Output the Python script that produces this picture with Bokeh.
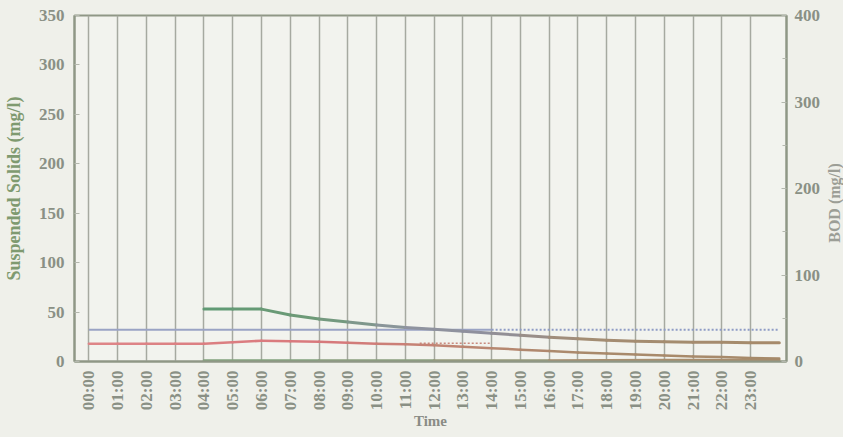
import math
from bokeh.plotting import figure
from bokeh.models import Range1d, LinearAxis, FixedTicker, ColumnDataSource, Div
from bokeh.layouts import row
from bokeh.embed import file_html
from bokeh.resources import INLINE

# ---------------- data ----------------
hour_ticks = [0, 1, 2, 3, 4, 5, 6, 7, 8, 9, 10, 11, 12, 13, 14, 15, 16, 17, 18, 19, 20, 21, 22, 23]
time_labels = ["00:00", "01:00", "02:00", "03:00", "04:00", "05:00", "06:00", "07:00",
               "08:00", "09:00", "10:00", "11:00", "12:00", "13:00", "14:00", "15:00",
               "16:00", "17:00", "18:00", "19:00", "20:00", "21:00", "22:00", "23:00"]

red_hours = [0, 1, 2, 3, 4, 5, 6, 7, 8, 9, 10, 11, 12, 13, 14, 15, 16, 17, 18, 19, 20, 21, 22, 23, 24]
red_ss = [18, 18, 18, 18, 18, 19.5, 21, 20.5, 20, 19, 18, 17.5, 16.5, 15, 13.5, 12, 10.5, 9, 8, 7, 6, 5, 4.5, 3.5, 3]

green_hours = [4, 5, 6, 7, 8, 9, 10, 11, 12, 13, 14, 15, 16, 17, 18, 19, 20, 21, 22, 23, 24]
green_ss = [53, 53, 53, 47, 43, 40, 37, 34.5, 32.5, 30.5, 28.5, 26.5, 24.5, 23, 21.5, 20.5, 20, 19.5, 19.5, 19, 19]

blue_solid_hours = [0, 14]
blue_solid = [32, 32]
blue_dot_hours = [14, 24]
blue_dot = [32, 32]

pink_dot_hours = [11.5, 14]
pink_dot = [18.5, 18.5]

base_hours = [4, 8, 12, 16, 20, 24]
base_ss = [1, 1, 1, 1, 1.5, 1.5]

ss_ticks = [0, 50, 100, 150, 200, 250, 300, 350]
bod_ticks = [0, 100, 200, 300, 400]
bod_minor = [50, 150, 250, 350]

# ---------------- style ----------------
BG = "#eff0ea"
FRAME = "#8f9786"
TXT = "#8a9085"
FONT = "Liberation Serif"


def hex2rgb(h):
    h = h.lstrip("#")
    return tuple(int(h[i:i + 2], 16) for i in (0, 2, 4))


def mix(stops, t):
    for (t0, c0), (t1, c1) in zip(stops[:-1], stops[1:]):
        if t <= t1:
            f = 0 if t1 == t0 else max(0.0, min(1.0, (t - t0) / (t1 - t0)))
            a, b = hex2rgb(c0), hex2rgb(c1)
            return "#%02x%02x%02x" % tuple(int(round(a[i] + (b[i] - a[i]) * f)) for i in range(3))
    return stops[-1][1]


def gradient_line(p, xs, ys, stops, width):
    x0, y0, x1, y1, col = [], [], [], [], []
    for i in range(len(xs) - 1):
        x0.append(xs[i]); y0.append(ys[i]); x1.append(xs[i + 1]); y1.append(ys[i + 1])
        col.append(mix(stops, (xs[i] + xs[i + 1]) / 2))
    src = ColumnDataSource(dict(x0=x0, y0=y0, x1=x1, y1=y1, c=col))
    p.segment("x0", "y0", "x1", "y1", source=src, line_color="c", line_width=width, line_cap="round")


p = figure(width=826, height=437, output_backend="svg", toolbar_location=None,
           x_range=Range1d(-0.5, 24.25), y_range=Range1d(0, 350),
           min_border_left=74, min_border_right=40, min_border_top=15, min_border_bottom=76)
p.background_fill_color = "#f2f3ee"
p.border_fill_color = BG
p.outline_line_color = FRAME
p.outline_line_width = 2

p.extra_y_ranges = {"bod": Range1d(0, 400)}
right = LinearAxis(y_range_name="bod", ticker=FixedTicker(ticks=bod_ticks, minor_ticks=bod_minor))
p.add_layout(right, "right")

ly = p.yaxis[0]
ly.ticker = FixedTicker(ticks=ss_ticks)
ly.axis_label = "Suspended Solids (mg/l)"

for ax in (ly, right):
    ax.axis_line_color = FRAME
    ax.axis_line_width = 2
    ax.major_tick_in = 5
    ax.major_tick_out = 0
    ax.minor_tick_in = 4
    ax.minor_tick_out = 0
    ax.major_tick_line_color = "#b4b8ae"
    ax.minor_tick_line_color = "#b4b8ae"
    ax.major_label_text_font = FONT
    ax.major_label_text_font_style = "bold"
    ax.major_label_text_font_size = "17px"
    ax.major_label_text_color = TXT

ly.major_label_standoff = 10
ly.axis_label_standoff = 12
ly.axis_label_text_font = FONT
ly.axis_label_text_font_style = "bold"
ly.axis_label_text_font_size = "18px"
ly.axis_label_text_color = "#7f9a70"

right.major_label_standoff = 8

xa = p.xaxis[0]
xa.ticker = FixedTicker(ticks=hour_ticks)
xa.major_label_overrides = {h: lab for h, lab in zip(hour_ticks, time_labels)}
xa.major_label_orientation = math.pi / 2
xa.major_label_text_font = FONT
xa.major_label_text_font_style = "bold"
xa.major_label_text_font_size = "17px"
xa.major_label_text_color = TXT
xa.major_label_standoff = 9
xa.major_tick_in = 0
xa.major_tick_out = 0
xa.minor_tick_in = 0
xa.minor_tick_out = 0
xa.axis_line_color = FRAME
xa.axis_line_width = 2
xa.axis_label = "Time"
xa.axis_label_text_font = FONT
xa.axis_label_text_font_style = "bold"
xa.axis_label_text_font_size = "15px"
xa.axis_label_text_color = "#8a8c86"
xa.axis_label_standoff = 0

p.ygrid.visible = False
p.xgrid.ticker = FixedTicker(ticks=hour_ticks)
p.xgrid.grid_line_color = "#a6a9a0"
p.xgrid.grid_line_width = 1.5

p.line(blue_solid_hours, blue_solid, line_color="#9aa3c4", line_width=2)
p.line(blue_dot_hours, blue_dot, line_color="#8f9cc6", line_width=2, line_dash="2 2")
p.line(pink_dot_hours, pink_dot, line_color="#c98a7e", line_width=1.5, line_dash="2 2")

gradient_line(p, base_hours, base_ss, [(4, "#7fa27c"), (12, "#8ea080"), (18, "#a88f70"), (24, "#a88c6c")], 2.5)
gradient_line(p, red_hours, red_ss, [(0, "#de8688"), (8, "#d9787c"), (13, "#bd8672"), (17, "#a98a6c"), (24, "#a68a6a")], 2.5)
gradient_line(p, green_hours, green_ss, [(4, "#5f9a73"), (8, "#6f9a78"), (11, "#8f94a0"), (14, "#8f8f9c"), (17, "#a38d74"), (24, "#a68a6a")], 3)

# right-hand axis title (reads bottom to top) in a narrow strip next to the plot
bod_svg = ('<svg xmlns="http://www.w3.org/2000/svg" width="17" height="437" style="display:block">'
           '<text x="8" y="203" transform="rotate(-90 8 203)" text-anchor="middle" '
           'dominant-baseline="central" '
           'style="font-family:\'Liberation Serif\',serif;font-weight:bold;font-size:16px;fill:#9c9e96">'
           'BOD (mg/l)</text></svg>')
bod_div = Div(text=bod_svg, width=17, height=437, margin=0,
              styles={"background-color": BG, "padding": "0", "margin": "0",
                      "font-family": "'Liberation Serif', serif"})

layout = row(p, bod_div, spacing=0)

html = file_html(layout, INLINE, title="chart")
html = html.replace("<head>", "<head><style>html,body{background:%s;}</style>" % BG, 1)
open("out.html", "w").write(html)
